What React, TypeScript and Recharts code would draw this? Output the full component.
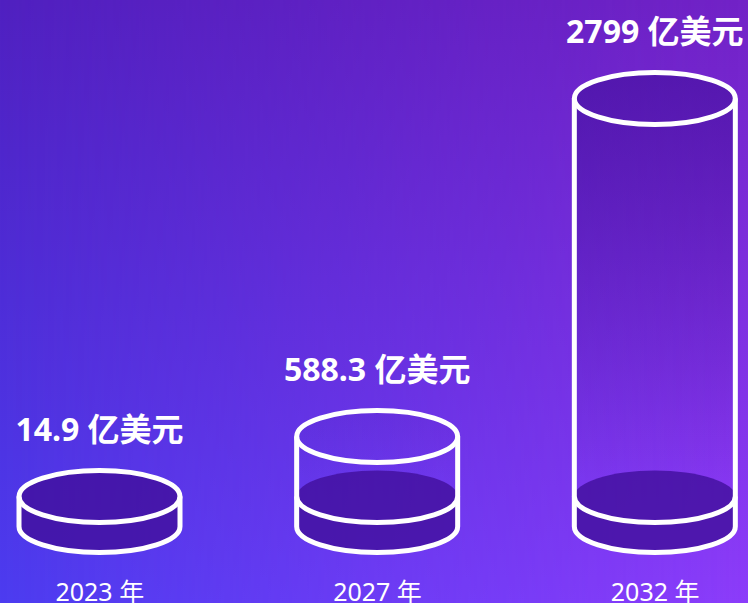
import React from "react";
import { BarChart, Bar, XAxis, YAxis } from "recharts";

const years = ["2023 年", "2027 年", "2032 年"];
const values = [14.9, 588.3, 2799];
const valueLabels = ["14.9 亿美元", "588.3 亿美元", "2799 亿美元"];

const data = years.map((year, i) => ({ year, value: values[i], label: valueLabels[i] }));

const RY = 26;
const DISK = 30;
const STROKE = 5;
const FONT = "'Noto Sans', 'Noto Sans CJK SC', sans-serif";

function Cylinder(props: any) {
  const { x, y, width, height, payload } = props;
  const cx = x + width / 2;
  const rx = width / 2;
  const bottom = y + height;
  const level = bottom - DISK;
  const top = Math.min(y, level);
  const L = cx - rx;
  const R = cx + rx;

  const body = `M ${L} ${top} L ${L} ${bottom} A ${rx} ${RY} 0 0 0 ${R} ${bottom} L ${R} ${top} A ${rx} ${RY} 0 0 0 ${L} ${top} Z`;
  const disk = `M ${L} ${level} L ${L} ${bottom} A ${rx} ${RY} 0 0 0 ${R} ${bottom} L ${R} ${level} A ${rx} ${RY} 0 0 0 ${L} ${level} Z`;
  const outline = `M ${L} ${top} L ${L} ${bottom} A ${rx} ${RY} 0 0 0 ${R} ${bottom} L ${R} ${top}`;
  const levelArc = `M ${L} ${level} A ${rx} ${RY} 0 0 0 ${R} ${level}`;

  return (
    <g>
      <path d={body} fill="url(#bodyFade)" />
      <path d={disk} fill="#42109e" fillOpacity={0.82} />
      <path d={outline} fill="none" stroke="#fff" strokeWidth={STROKE} strokeLinejoin="round" />
      {top < level && <path d={levelArc} fill="none" stroke="#fff" strokeWidth={STROKE} />}
      <ellipse cx={cx} cy={top} rx={rx} ry={RY} fill="none" stroke="#fff" strokeWidth={STROKE} />
      <text
        x={cx}
        y={top - RY - 30}
        textAnchor="middle"
        fill="#fff"
        fontFamily={FONT}
        fontWeight={700}
        fontSize={32}
      >
        {payload.label}
      </text>
    </g>
  );
}

function YearTick(props: any) {
  const { x, y, payload } = props;
  return (
    <text x={x} y={y + 74} textAnchor="middle" fill="#fff" fontFamily={FONT} fontSize={25}>
      {payload.value}
    </text>
  );
}

export default function App() {
  return (
    <div style={{ position: "fixed", left: 0, top: 0, width: 748, height: 603, overflow: "hidden" }}>
      <div
        style={{
          position: "absolute",
          inset: 0,
          background: "linear-gradient(to bottom, #5020c0, #4c3cf0)",
        }}
      />
      <div
        style={{
          position: "absolute",
          inset: 0,
          background: "linear-gradient(to bottom, #7222c6, #8c3cfa)",
          WebkitMaskImage: "linear-gradient(to right, transparent, black)",
          maskImage: "linear-gradient(to right, transparent, black)",
        }}
      />
      <div style={{ position: "absolute", left: -39, top: 0 }}>
        <BarChart
          width={833}
          height={603}
          data={data}
          margin={{ top: 98.5, right: 0, bottom: 0, left: 0 }}
        >
          <defs>
            <linearGradient id="bodyFade" gradientUnits="userSpaceOnUse" x1="0" y1="72" x2="0" y2="480">
              <stop offset="0" stopColor="#3c0c96" stopOpacity={0.55} />
              <stop offset="1" stopColor="#3c0c96" stopOpacity={0} />
            </linearGradient>
          </defs>
          <YAxis hide domain={[0, 2799]} />
          <XAxis
            dataKey="year"
            axisLine={false}
            tickLine={false}
            tickSize={0}
            tickMargin={0}
            height={76.5}
            interval={0}
            tick={<YearTick />}
          />
          <Bar dataKey="value" barSize={161} shape={<Cylinder />} isAnimationActive={false} />
        </BarChart>
      </div>
    </div>
  );
}
